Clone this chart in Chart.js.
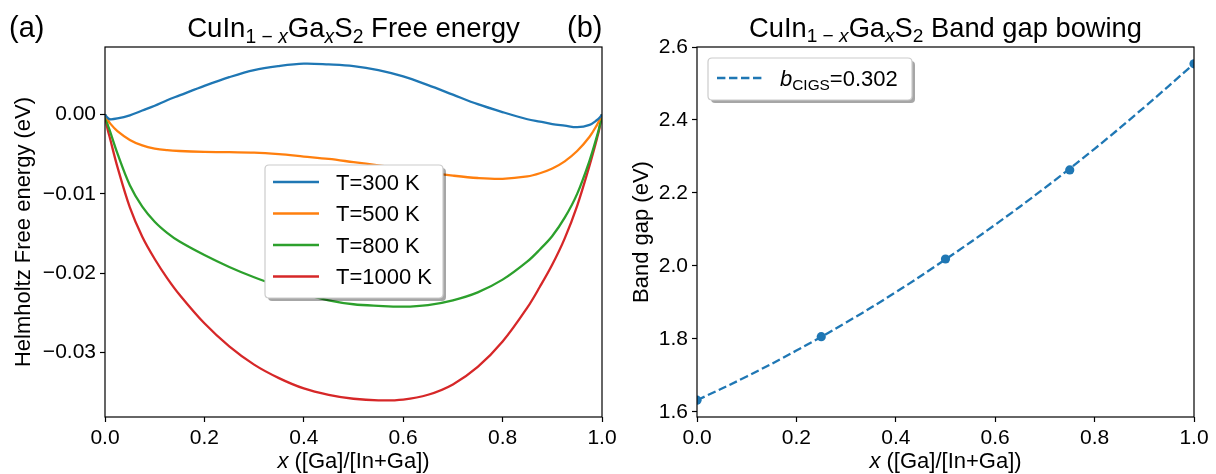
<!DOCTYPE html>
<html>
<head>
<meta charset="utf-8">
<script src="https://cdn.jsdelivr.net/npm/chart.js@4.4.0/dist/chart.umd.min.js"></script>
<style>
  html, body { margin: 0; padding: 0; background: #fff; }
  #wrap { position: relative; width: 1216px; height: 474px; }
  #wrap canvas { position: absolute; left: 0; top: 0; }
</style>
</head>
<body>
<div id="wrap">
  <canvas id="free_energy" width="1216" height="474"></canvas>
  <canvas id="band_gap" width="1216" height="474"></canvas>
</div>
<script>
'use strict';

// --- data ---
const xGrid = [0, 0.005, 0.01, 0.025, 0.05, 0.075, 0.1, 0.125, 0.15, 0.2, 0.25, 0.3, 0.35, 0.4, 0.45, 0.5,
  0.55, 0.6, 0.65, 0.7, 0.75, 0.8, 0.85, 0.875, 0.9, 0.925, 0.95, 0.975, 0.99, 0.995, 1];

const f300 = [0, -0.0004, -0.0006, -0.0005, -0.0001, 0.0005, 0.0011, 0.0018, 0.0024, 0.0036, 0.0047, 0.0056, 0.0061, 0.0064, 0.0063, 0.0061,
  0.0056, 0.0048, 0.0037, 0.0025, 0.0013, 0.0003, -0.0006, -0.0009, -0.0012, -0.0014, -0.0016, -0.0013, -0.0007, -0.0004, 0];
const f500 = [0, -0.0006, -0.0011, -0.0021, -0.0032, -0.0039, -0.0043, -0.0045, -0.0046, -0.0047, -0.00475, -0.0048, -0.0050, -0.0053, -0.0056, -0.0060,
  -0.0064, -0.0068, -0.0073, -0.0077, -0.0080, -0.0081, -0.0078, -0.0074, -0.0068, -0.0059, -0.0046, -0.0028, -0.0013, -0.0007, 0];
const f800 = [0, -0.0012, -0.0021, -0.0049, -0.0089, -0.0116, -0.0135, -0.0149, -0.0160, -0.0177, -0.0192, -0.0205, -0.0216, -0.0226, -0.0234, -0.0239,
  -0.0241, -0.0242, -0.0240, -0.0234, -0.0224, -0.0208, -0.0185, -0.0170, -0.0153, -0.0130, -0.0100, -0.0058, -0.0027, -0.0015, 0];
const f1000 = [0, -0.0018, -0.0030, -0.0066, -0.0117, -0.0154, -0.0182, -0.0206, -0.0227, -0.0263, -0.0292, -0.0315, -0.0332, -0.0345, -0.0353, -0.0358,
  -0.0360, -0.0359, -0.0353, -0.0340, -0.0318, -0.0286, -0.0243, -0.0217, -0.0189, -0.0156, -0.0115, -0.0064, -0.0030, -0.0017, 0];

const tempLabels = ['T=300 K', 'T=500 K', 'T=800 K', 'T=1000 K'];
const tempColors = ['#1f77b4', '#ff7f0e', '#2ca02c', '#d62728'];

const gaFraction = [0, 0.25, 0.5, 0.75, 1.0];
const gapValues = [1.632, 1.806, 2.019, 2.263, 2.554];

const fitX = [0, 0.1, 0.2, 0.3, 0.4, 0.5, 0.6, 0.7, 0.8, 0.9, 1.0];
const fitGap = [1.632, 1.697, 1.768, 1.845, 1.928, 2.018, 2.113, 2.214, 2.321, 2.435, 2.554];

const xTicks = [0, 0.2, 0.4, 0.6, 0.8, 1.0];
const energyTicks = [0, -0.01, -0.02, -0.03];
const gapTicks = [1.6, 1.8, 2.0, 2.2, 2.4, 2.6];

const FONT = '"Liberation Sans", Arial, Helvetica, sans-serif';
const TICK_SIZE = 21;
const LABEL_SIZE = 22;

function toPoints(xs, ys) {
  return xs.map((x, i) => ({ x: x, y: ys[i] }));
}

function fixedTicks(values) {
  return function(scale) {
    scale.ticks = values.map(v => ({ value: v }));
  };
}

function minusSign(v, digits) {
  const s = Math.abs(v).toFixed(digits);
  return (v < -1e-9 ? '\u2212' : '') + s;
}

// text pieces: [text, sizeFactor, drop, italic]
function setFont(ctx, p, size) {
  ctx.font = (p[3] ? 'italic ' : '') + Math.round(size * p[1] * 10) / 10 + 'px ' + FONT;
}

function richWidth(ctx, parts, size) {
  let w = 0;
  for (const p of parts) {
    setFont(ctx, p, size);
    w += ctx.measureText(p[0]).width;
  }
  return w;
}

function drawRich(ctx, parts, x, y, size, align) {
  const w = richWidth(ctx, parts, size);
  let cx = align === 'center' ? x - w / 2 : x;
  ctx.textAlign = 'left';
  ctx.textBaseline = 'alphabetic';
  ctx.fillStyle = '#000';
  for (const p of parts) {
    setFont(ctx, p, size);
    ctx.fillText(p[0], cx, y + p[2] * size);
    cx += ctx.measureText(p[0]).width;
  }
}

// pick a size near `size` so the text spans `width` pixels
function fitSize(ctx, parts, size, width) {
  return size * width / richWidth(ctx, parts, size);
}

function roundRect(ctx, x, y, w, h, r) {
  ctx.beginPath();
  ctx.moveTo(x + r, y);
  ctx.lineTo(x + w - r, y);
  ctx.quadraticCurveTo(x + w, y, x + w, y + r);
  ctx.lineTo(x + w, y + h - r);
  ctx.quadraticCurveTo(x + w, y + h, x + w - r, y + h);
  ctx.lineTo(x + r, y + h);
  ctx.quadraticCurveTo(x, y + h, x, y + h - r);
  ctx.lineTo(x, y + r);
  ctx.quadraticCurveTo(x, y, x + r, y);
  ctx.closePath();
}

function legendFrame(ctx, x, y, w, h) {
  roundRect(ctx, x + 3, y + 3, w, h, 4);
  ctx.fillStyle = 'rgba(0,0,0,0.35)';
  ctx.fill();
  roundRect(ctx, x, y, w, h, 4);
  ctx.fillStyle = '#fff';
  ctx.fill();
  ctx.strokeStyle = '#cccccc';
  ctx.lineWidth = 1.2;
  ctx.stroke();
}

function titleParts(tail) {
  return [
    ['CuIn', 1, 0, false], ['1 \u2212 ', 0.7, 0.2, false], ['x', 0.7, 0.2, true],
    ['Ga', 1, 0, false], ['x', 0.7, 0.2, true],
    ['S', 1, 0, false], ['2', 0.7, 0.2, false], [tail, 1, 0, false]
  ];
}

const xLabelParts = [['x', 1, 0, true], [' ([Ga]/[In+Ga])', 1, 0, false]];
const gapLegendParts = [['b', 1, 0, true], ['CIGS', 0.7, 0.2, false], ['=0.302', 1, 0, false]];

function drawEnergyLegend(ctx) {
  legendFrame(ctx, 265, 165, 178, 133);
  const rows = [182, 213.5, 245, 276.5];
  rows.forEach((ry, i) => {
    ctx.beginPath();
    ctx.moveTo(273, ry);
    ctx.lineTo(319, ry);
    ctx.strokeStyle = tempColors[i];
    ctx.lineWidth = 2.3;
    ctx.stroke();
    drawRich(ctx, [[tempLabels[i], 1, 0, false]], 336, ry + 7.5, LABEL_SIZE, 'left');
  });
}

function drawGapLegend(ctx) {
  legendFrame(ctx, 708, 58, 204, 42);
  ctx.beginPath();
  ctx.setLineDash([8.4, 3.6]);
  ctx.moveTo(717, 78);
  ctx.lineTo(762, 78);
  ctx.strokeStyle = '#1f77b4';
  ctx.lineWidth = 2.3;
  ctx.stroke();
  ctx.setLineDash([]);
  const s = Math.min(LABEL_SIZE, fitSize(ctx, gapLegendParts, LABEL_SIZE, 118));
  drawRich(ctx, gapLegendParts, 780, 86, s, 'left');
}

// per-panel texts, kept out of the chart options so they are not resolved as scriptables
const panelTexts = {
  free_energy: { titleTail: ' Free energy', titleWidth: 333, panel: '(a)', panelX: 9,
    yLabel: 'Helmholtz Free energy (eV)', yLabelX: 30, legend: drawEnergyLegend },
  band_gap: { titleTail: ' Band gap bowing', titleWidth: 393, panel: '(b)', panelX: 567,
    yLabel: 'Band gap (eV)', yLabelX: 648, legend: drawGapLegend }
};

// spines on all four sides, plus the texts
const framePlugin = {
  id: 'frame',
  afterDatasetsDraw(chart) {
    const a = chart.chartArea;
    const ctx = chart.ctx;
    ctx.save();
    ctx.strokeStyle = '#000';
    ctx.lineWidth = 1.2;
    ctx.strokeRect(a.left, a.top, a.right - a.left, a.bottom - a.top);
    ctx.restore();
  },
  afterDraw(chart) {
    const a = chart.chartArea;
    const ctx = chart.ctx;
    const mid = (a.left + a.right) / 2;
    const o = panelTexts[chart.canvas.id];
    ctx.save();
    const tParts = titleParts(o.titleTail);
    drawRich(ctx, tParts, mid, 37, fitSize(ctx, tParts, 27, o.titleWidth), 'center');
    drawRich(ctx, [[o.panel, 1, 0, false]], o.panelX, 37, 29, 'left');
    drawRich(ctx, xLabelParts, mid, 468, LABEL_SIZE, 'center');

    ctx.save();
    ctx.translate(o.yLabelX, (a.top + a.bottom) / 2);
    ctx.rotate(-Math.PI / 2);
    drawRich(ctx, [[o.yLabel, 1, 0, false]], 0, 0, LABEL_SIZE, 'center');
    ctx.restore();

    o.legend(ctx);
    ctx.restore();
  }
};

function axisFont() {
  return { family: FONT, size: TICK_SIZE };
}

function makeScales(yMin, yMax, yTicks, yDigits, left) {
  return {
    x: {
      type: 'linear',
      min: 0,
      max: 1,
      afterBuildTicks: fixedTicks(xTicks),
      afterFit(scale) {
        scale.height = 474 - 417;
        scale.paddingLeft = 0;
        scale.paddingRight = 0;
      },
      ticks: { callback: v => v.toFixed(1), font: axisFont(), color: '#000', padding: 4, maxRotation: 0, autoSkip: false },
      grid: { drawOnChartArea: false, tickLength: 5, tickWidth: 1.2, tickColor: '#000' },
      border: { display: false }
    },
    y: {
      type: 'linear',
      min: yMin,
      max: yMax,
      afterBuildTicks: fixedTicks(yTicks),
      afterFit(scale) {
        scale.width = left;
        scale.paddingTop = 0;
        scale.paddingBottom = 0;
      },
      ticks: { callback: v => minusSign(v, yDigits), font: axisFont(), color: '#000', padding: 4, autoSkip: false },
      grid: { drawOnChartArea: false, tickLength: 5, tickWidth: 1.2, tickColor: '#000' },
      border: { display: false }
    }
  };
}

// --- (a) free energy ---
const energySets = [f300, f500, f800, f1000].map((ys, i) => ({
  label: tempLabels[i],
  data: toPoints(xGrid, ys),
  borderColor: tempColors[i],
  borderWidth: 2.3,
  pointRadius: 0,
  fill: false,
  tension: 0.35,
  clip: 0
}));

new Chart(document.getElementById('free_energy').getContext('2d'), {
  type: 'line',
  data: { datasets: energySets },
  options: {
    responsive: false,
    animation: false,
    events: [],
    layout: { padding: { left: 0, right: 1216 - 602, top: 47, bottom: 0 } },
    scales: makeScales(-0.0381, 0.0085, energyTicks, 2, 105),
    plugins: { legend: { display: false }, tooltip: { enabled: false } }
  },
  plugins: [framePlugin]
});

// --- (b) band gap bowing ---
new Chart(document.getElementById('band_gap').getContext('2d'), {
  type: 'scatter',
  data: {
    datasets: [
      {
        label: 'points',
        data: toPoints(gaFraction, gapValues),
        showLine: false,
        pointRadius: 4.6,
        pointBackgroundColor: '#1f77b4',
        pointBorderWidth: 0,
        clip: 0
      },
      {
        label: 'fit',
        data: toPoints(fitX, fitGap),
        showLine: true,
        borderColor: '#1f77b4',
        borderWidth: 2.3,
        borderDash: [8.4, 3.6],
        pointRadius: 0,
        tension: 0.4,
        clip: 0
      }
    ]
  },
  options: {
    responsive: false,
    animation: false,
    events: [],
    layout: { padding: { left: 0, right: 1216 - 1194, top: 47, bottom: 0 } },
    scales: makeScales(1.586, 2.600, gapTicks, 1, 697),
    plugins: { legend: { display: false }, tooltip: { enabled: false } }
  },
  plugins: [framePlugin]
});
</script>
</body>
</html>
